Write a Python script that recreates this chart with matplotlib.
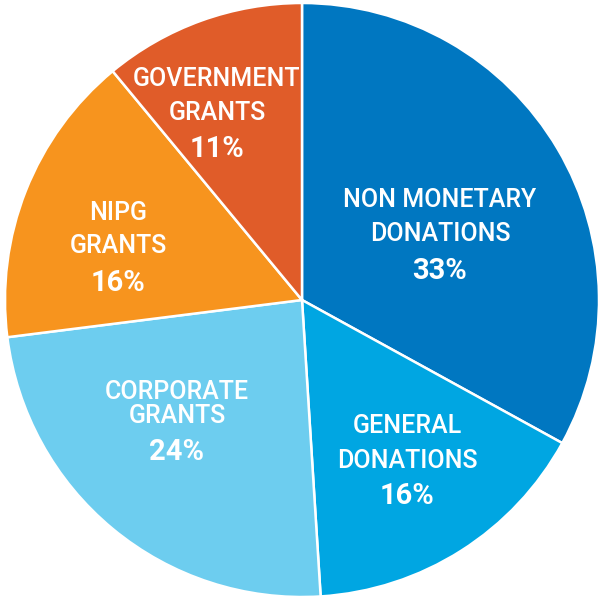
import matplotlib
matplotlib.use("Agg")
import matplotlib.pyplot as plt

# funding sources, clockwise from the top
names = [["NON MONETARY", "DONATIONS"], ["GENERAL", "DONATIONS"], ["CORPORATE", "GRANTS"],
         ["NIPG", "GRANTS"], ["GOVERNMENT", "GRANTS"]]
shares = [33, 16, 24, 16, 11]
colors = ["#0077C1", "#00A6E2", "#6DCDEF", "#F7941E", "#E05C29"]

# pixel x centre and y of each text line (line1, line2, percent) in the 598px picture
label_x = [440, 407, 177, 118, 217]
label_y = [(197, 231, 268), (423, 458, 493), (389, 413, 449), (210, 243, 280), (76, 110, 146)]

fig = plt.figure(figsize=(5.98, 5.98), dpi=100)
ax = fig.add_axes([0, 0, 1, 1])

cx, cy, r = 302, 300, 297
ax.pie(shares, colors=colors, startangle=90, counterclock=False, radius=1,
       wedgeprops=dict(edgecolor="white", linewidth=1.8))

def to_data(px, py):
    # +3 px: va='center' counts the descender, caps sit a bit high otherwise
    return (px - cx) / r, (cy - py - 3) / r

for lines, s, px, ys in zip(names, shares, label_x, label_y):
    for line, py in zip(lines, ys[:2]):
        x, y = to_data(px, py)
        ax.text(x, y, line, color="white", ha="center", va="center",
                fontsize=18, family="Roboto", fontweight="medium")
    x, y = to_data(px, ys[2])
    ax.text(x, y, f"{s}%", color="white", ha="center", va="center",
            fontsize=21, family="Roboto", fontweight="bold")

ax.set_xlim(-cx / r, (598 - cx) / r)
ax.set_ylim((cy - 598) / r, cy / r)
ax.set_aspect("equal")
ax.axis("off")

fig.savefig("out.png", dpi=100)
